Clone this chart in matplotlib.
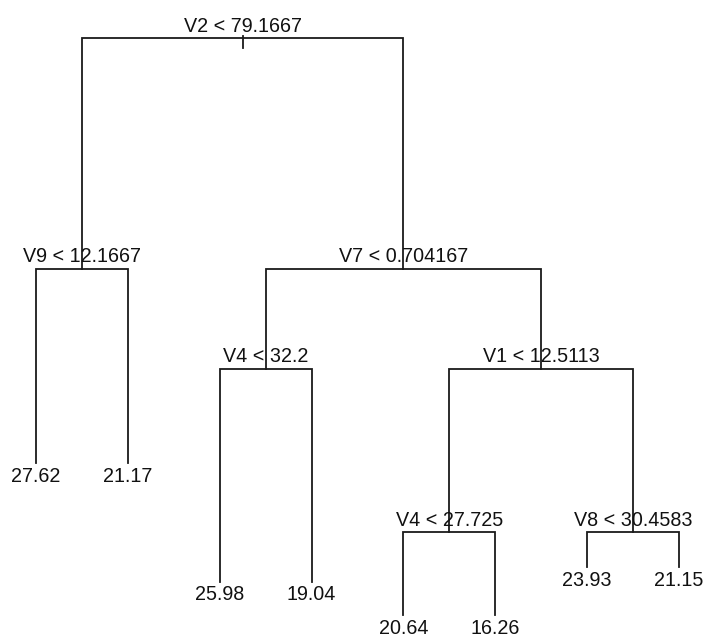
import matplotlib
matplotlib.use("Agg")
import matplotlib.pyplot as plt

# tree nodes, numbered like R (children of n are 2n and 2n+1)
node_ids = [1, 2, 3, 4, 5, 6, 7, 12, 13, 14, 15, 28, 29, 30, 31]
node_labels = ["V2 < 79.1667", "V9 < 12.1667", "V7 < 0.704167",
               "27.62", "21.17", "V4 < 32.2", "V1 < 12.5113",
               "25.98", "19.04", "V4 < 27.725", "V8 < 30.4583",
               "20.64", "16.26", "23.93", "21.15"]
# node height (deviance-like scale)
node_y = [599, 368, 368, 174, 174, 268, 268, 55, 55, 105, 105, 22, 22, 70, 70]

label = dict(zip(node_ids, node_labels))
yy = dict(zip(node_ids, node_y))
ids = set(node_ids)

# leaves get x = 1..8 in left-to-right order, splits sit midway over children
xx = {}
counter = [0]
def place(n):
    if 2 * n in ids:
        place(2 * n)
        place(2 * n + 1)
        xx[n] = (xx[2 * n] + xx[2 * n + 1]) / 2.0
    else:
        counter[0] += 1
        xx[n] = counter[0]
place(1)

plt.rcParams['font.family'] = ['Liberation Sans', 'DejaVu Sans']
fig = plt.figure(figsize=(7.08, 6.37), dpi=100)
ax = fig.add_axes([0, 0, 1, 1])
ax.set_xlim(0.608, 8.315)
ax.set_ylim(0, 637)
ax.axis("off")

lc = "#1a1a1a"
lw = 1.3
fs = 14.2

for n in node_ids:
    if 2 * n in ids:
        l, r = 2 * n, 2 * n + 1
        ax.plot([xx[l], xx[l], xx[r], xx[r]], [yy[l], yy[n], yy[n], yy[r]],
                color=lc, lw=lw, solid_joinstyle="miter", zorder=2)
        ax.text(xx[n], yy[n] + 12, label[n], ha="center", va="center",
                fontsize=fs, color="#111111", zorder=3)
    else:
        ax.text(xx[n], yy[n] - 13, label[n], ha="center", va="center",
                fontsize=fs, color="#111111", zorder=3)

# little stub under the root split
ax.plot([xx[1], xx[1]], [yy[1] + 2, yy[1] - 10], color=lc, lw=lw, zorder=2)

plt.savefig("out.png", dpi=100)
